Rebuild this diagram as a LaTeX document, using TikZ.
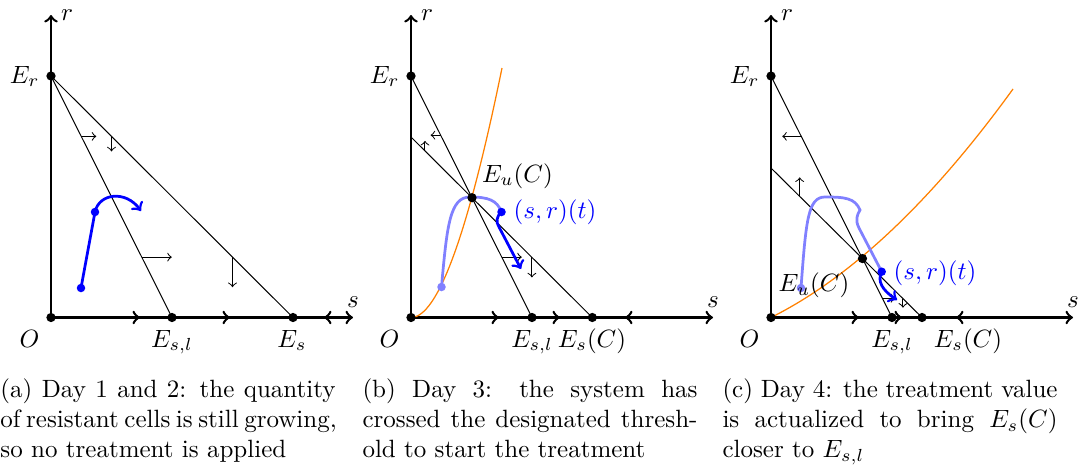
\documentclass[tikz,border=0pt]{standalone}
\usetikzlibrary{calc}
\begin{document}
\begin{tikzpicture}[x=0.4pt,y=-0.4pt,
  axisarrow/.style={line width=1pt,->},
  thinline/.style={line width=0.4pt},
  dot/.style={circle,fill=black,inner sep=0pt,minimum size=3.7pt},
  bluedot/.style={circle,fill=blue,inner sep=0pt,minimum size=3.4pt},
  lbluedot/.style={circle,fill=blue!50,inner sep=0pt,minimum size=3.4pt},
  traj/.style={blue,line width=1.1pt},
  oldtraj/.style={blue!50,line width=1.1pt},
  nullcl/.style={orange,line width=0.5pt},
  flow/.style={line width=0.4pt,->},
  lbl/.style={inner sep=0pt,anchor=base,font=\fontsize{10}{12}\selectfont},
  lble/.style={inner sep=0pt,anchor=base east,font=\fontsize{10}{12}\selectfont},
  captext/.style={anchor=north west,inner sep=0pt,align=left,font=\fontsize{10}{12}\selectfont}
]
\useasboundingbox (0,0) rectangle (1081,467);

% ================= Panel (a) =================
\coordinate (Oa) at (51,317.5);
\coordinate (ra) at (51,15);
\coordinate (sa) at (353,317.5);
\coordinate (Era) at (51,76);
\coordinate (Esla) at (172,317.5);
\coordinate (Esa) at (293,317.5);
\draw[axisarrow] (Oa) -- (ra);
\draw[axisarrow] (Oa) -- (sa);
\draw[axisarrow] (132,317.5) -- (140,317.5);
\draw[axisarrow] (222,317.5) -- (230,317.5);
\draw[line width=1pt,<-] (324,317.5) -- (332,317.5);
\draw[thinline] (Era) -- (Esla);
\draw[thinline] (Era) -- (Esa);
\draw[flow] ($(Era)!0.25!(Esla)$) -- ++(15,0);
\draw[flow] ($(Era)!0.25!(Esa)$) -- ++(0,15);
\draw[flow] ($(Era)!0.75!(Esla)$) -- ++(30,0);
\draw[flow] ($(Era)!0.75!(Esa)$) -- ++(0,30);
\coordinate (A1) at (81,288);
\coordinate (A2) at (95,212);
\draw[traj,->] (A1) -- (A2) .. controls (99,193) and (126,190) .. (141,211);
\node[bluedot] (a1) at (A1) {};
\node[bluedot] (a2) at (A2) {};
\node[dot] (nOa) at (Oa) {};
\node[dot] (nEra) at (Era) {};
\node[dot] (nEsla) at (Esla) {};
\node[dot] (nEsa) at (Esa) {};
\node[lbl] (lra) at (67,20.5) {$r$};
\node[lbl] (lsa) at (353,307) {$s$};
\node[lble] (lEra) at (40,83) {$E_r$};
\node[lble] (lOa) at (40,347) {$O$};
\node[lbl] (lEsla) at (172,347) {$E_{s,l}$};
\node[lbl] (lEsa) at (292,347) {$E_s$};

% ================= Panel (b) =================
\coordinate (Ob) at (411,317.5);
\coordinate (rb) at (411,15);
\coordinate (sb) at (713,317.5);
\coordinate (Erb) at (411,76);
\coordinate (Pb) at (411,137);
\coordinate (Eslb) at (532,317.5);
\coordinate (EsCb) at (592.3,317.5);
\coordinate (Eub) at (intersection of Erb--Eslb and Pb--EsCb);
\draw[axisarrow] (Ob) -- (rb);
\draw[axisarrow] (Ob) -- (sb);
\draw[axisarrow] (491,317.5) -- (499,317.5);
\draw[axisarrow] (552,317.5) -- (560,317.5);
\draw[line width=1pt,<-] (625,317.5) -- (633,317.5);
\draw[thinline] (Erb) -- (Eslb);
\draw[thinline] (Pb) -- (EsCb);
\draw[nullcl] (Ob) .. controls (437.7,317.5) and (468,234.3) .. (502,68);
\draw[flow] ($(Erb)!0.245!(Eslb)$) -- ++(-10,0);
\draw[flow] ($(Pb)!0.077!(EsCb)$) -- ++(0,-10);
\draw[flow] ($(Erb)!0.75!(Eslb)$) -- ++(20,0);
\draw[flow] ($(Pb)!0.667!(EsCb)$) -- ++(0,20);
\coordinate (B1) at (441.5,287);
\coordinate (B2) at (501.5,212);
\draw[oldtraj] (B1) .. controls (447,225) and (450,197) .. (470,197)
   .. controls (488,197) and (497,200) .. (B2);
\draw[traj,->] (B2) .. controls (496,217) and (496,222) .. (499,227) -- (521,269);
\node[lbluedot] (b1) at (B1) {};
\node[bluedot] (b2) at (B2) {};
\node[dot] (nOb) at (Ob) {};
\node[dot] (nErb) at (Erb) {};
\node[dot] (nEslb) at (Eslb) {};
\node[dot] (nEsCb) at (EsCb) {};
\node[dot] (nEub) at (Eub) {};
\node[lbl] (lrb) at (427,20.5) {$r$};
\node[lbl] (lsb) at (713,307) {$s$};
\node[lble] (lErb) at (400,83) {$E_r$};
\node[lble] (lOb) at (400,347) {$O$};
\node[lbl] (lEslb) at (532,347) {$E_{s,l}$};
\node[lbl] (lEsCb) at (592,347) {$E_s(C)$};
\node[lbl] (lEub) at (517.5,182) {$E_u(C)$};
\node[lbl,text=blue] (lsrb) at (555,218) {$(s,r)(t)$};

% ================= Panel (c) =================
\coordinate (Oc) at (771,317.5);
\coordinate (rc) at (771,15);
\coordinate (sc) at (1073,317.5);
\coordinate (Erc) at (771,76);
\coordinate (Pc) at (771,168);
\coordinate (Eslc) at (892,317.5);
\coordinate (EsCc) at (922,317.5);
\coordinate (Euc) at (intersection of Erc--Eslc and Pc--EsCc);
\draw[axisarrow] (Oc) -- (rc);
\draw[axisarrow] (Oc) -- (sc);
\draw[axisarrow] (851,317.5) -- (859,317.5);
\draw[axisarrow] (894,317.5) -- (902,317.5);
\draw[line width=1pt,<-] (956,317.5) -- (964,317.5);
\draw[thinline] (Erc) -- (Eslc);
\draw[thinline] (Pc) -- (EsCc);
\draw[nullcl] (Oc) .. controls (851,277.5) and (931.7,201.3) .. (1013,89);
\draw[flow] ($(Erc)!0.25!(Eslc)$) -- ++(-19,0);
\draw[flow] ($(Pc)!0.19!(EsCc)$) -- ++(0,-19);
\draw[flow] ($(Erc)!0.92!(Eslc)$) -- ++(13,0);
\draw[flow] ($(Pc)!0.874!(EsCc)$) -- ++(0,9);
\coordinate (C1) at (801,288);
\coordinate (C2) at (881.7,271.7);
\draw[oldtraj] (C1) .. controls (806,220) and (808,197) .. (825,197)
   .. controls (845,197) and (855,198) .. (860,210)
   .. controls (857,215) and (855,220) .. (859,228) -- (C2);
\draw[traj,->] (C2) .. controls (877,281) and (882,290) .. (897,300);
\node[lbluedot] (c1) at (C1) {};
\node[bluedot] (c2) at (C2) {};
\node[dot] (nOc) at (Oc) {};
\node[dot] (nErc) at (Erc) {};
\node[dot] (nEslc) at (Eslc) {};
\node[dot] (nEsCc) at (EsCc) {};
\node[dot] (nEuc) at (Euc) {};
\node[lbl] (lrc) at (787,20.5) {$r$};
\node[lbl] (lsc) at (1073,307) {$s$};
\node[lble] (lErc) at (760,83) {$E_r$};
\node[lble] (lOc) at (760,347) {$O$};
\node[lbl] (lEslc) at (892,347) {$E_{s,l}$};
\node[lbl] (lEsCc) at (968,347) {$E_s(C)$};
\node[lbl] (lEuc) at (814,291.7) {$E_u(C)$};
\node[lbl,text=blue] (lsrc) at (935,279.3) {$(s,r)(t)$};

% ================= Captions =================
\node[captext] (capa) at (0,378) {\makebox[134pt][s]{(a) Day 1 and 2: the quantity}\\
  \makebox[134pt][s]{of resistant cells is still growing,}\\
  so no treatment is applied};
\node[captext] (capb) at (362,378) {\makebox[134pt][s]{(b) Day 3: the system has}\\
  \makebox[134pt][s]{crossed the designated thresh-}\\
  old to start the treatment};
\node[captext] (capc) at (722,378) {\makebox[134pt][s]{(c) Day 4: the treatment value}\\
  \makebox[134pt][s]{is actualized to bring $E_s(C)$}\\
  closer to $E_{s,l}$};
\end{tikzpicture}
\end{document}
